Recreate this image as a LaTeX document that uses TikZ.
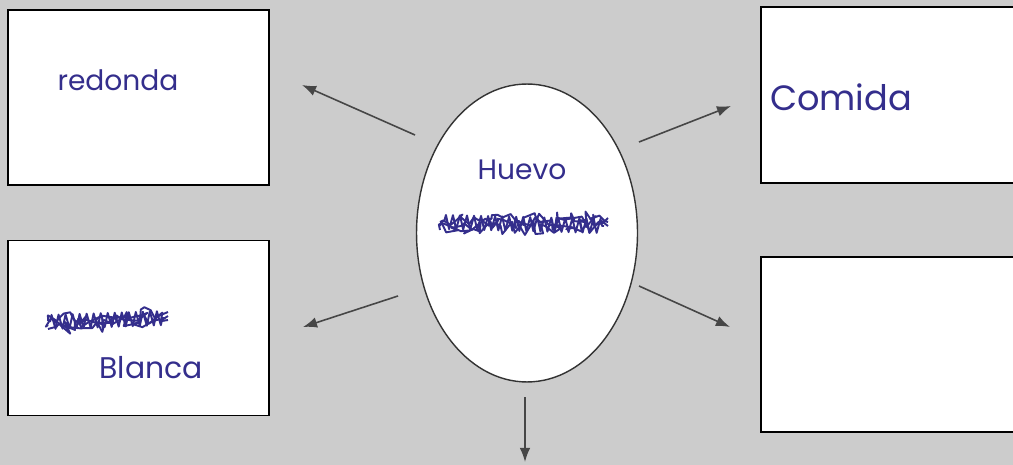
\documentclass[tikz,border=0pt]{standalone}
\usepackage{fontspec}
\setmainfont{Poppins}
\usetikzlibrary{shapes.geometric,decorations.pathmorphing,arrows.meta}
\definecolor{paper}{RGB}{204,204,204}
\definecolor{pen}{RGB}{52,46,140}
\definecolor{lead}{RGB}{70,70,70}
\begin{document}
\begin{tikzpicture}[x=0.02cm, y=-0.02cm]
				\tikzset{box/.style = {draw, fill=white, line width=1pt, minimum width=5.22cm, minimum height=3.5cm, inner sep=0pt},
					egg/.style = {ellipse, draw=black!80, fill=white, line width=0.8pt, minimum width=4.42cm, minimum height=5.96cm, inner sep=0pt},
					arr/.style = {draw=lead, line width=0.9pt, -{Latex[length=8pt,width=6pt]}},
					word/.style = {text=pen, inner sep=0pt},
					scribble/.style = {draw=pen, line width=1.1pt, line join=round, decorate, decoration={random steps, segment length=2.5pt, amplitude=4pt}}}
				\pgfmathsetseed{7}
				\useasboundingbox (0,0) rectangle (1013,465);
				\clip (0,0) rectangle (1013,465);
				\fill[paper] (0,0) rectangle (1013,465);
				% boxes and egg
				\node[box] (forma) at (138.5,97.5) {};
				\node[box] (color) at (138.5,328) {};
				\node[box, minimum width=5.4cm, minimum height=3.52cm] (uso) at (896,95) {};
				\node[box, minimum width=5.4cm] (vacio) at (896,344.5) {};
				\node[egg] (huevo) at (527,233) {};
				% words
				\node[word, font=\fontsize{16}{18}\selectfont] (t-forma) at (118,80) {redonda};
				\node[word, font=\fontsize{20}{22}\selectfont] (t-uso) at (841,97) {Comida};
				\node[word, font=\fontsize{16}{18}\selectfont] (t-huevo) at (522,170) {Huevo};
				\node[word, font=\fontsize{17}{19}\selectfont] (t-color) at (151,368) {Blanca};
				% crossed out words
				\foreach \dy in {-4,0,4}{
					\draw[scribble] (440,226+\dy) -- (608,222+\dy);
					\draw[scribble] (48,325+\dy) -- (168,316+\dy);
				}
				\draw[scribble, decoration={zigzag, segment length=4pt, amplitude=4pt}] (444,222) -- (604,226);
				\draw[scribble, decoration={zigzag, segment length=4pt, amplitude=4pt}] (50,322) -- (165,318);
				% arrows
				\foreach \n/\sx/\sy/\ex/\ey in {ul/415/135/302/85, ll/398/296/303/327,
					ur/639/142/731/106, lr/639/286/730/327, dn/525/397/525/462}{
					\coordinate (\n-from) at (\sx,\sy);
					\coordinate (\n-to) at (\ex,\ey);
					\draw[arr] (\n-from) -- (\n-to);
				}
			\end{tikzpicture}
\end{document}
